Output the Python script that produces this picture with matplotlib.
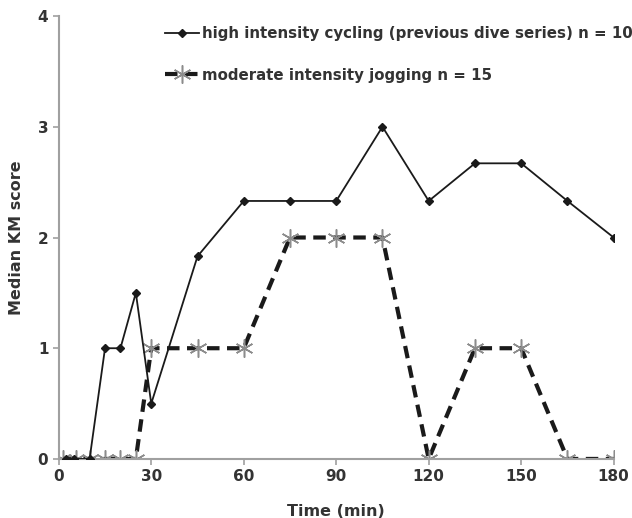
import matplotlib
matplotlib.use("Agg")
import matplotlib.pyplot as plt

plt.rcParams['font.family'] = ['DejaVu Sans']

high_time = [2.5, 5, 10, 15, 20, 25, 30, 45, 60, 75, 90, 105, 120, 135, 150, 165, 180]
high_score = [0, 0, 0, 1, 1, 1.5, 0.5, 1.83, 2.33, 2.33, 2.33, 3, 2.33, 2.67, 2.67, 2.33, 2]
jog_time = [1.5, 5.5, 10, 15, 20, 25, 30, 45, 60, 75, 90, 105, 120, 135, 150, 165, 180]
jog_score = [0, 0, 0, 0, 0, 0, 1, 1, 1, 2, 2, 2, 0, 1, 1, 0, 0]
high_label = "high intensity cycling (previous dive series) n = 10"
jog_label = "moderate intensity jogging n = 15"
x_ticks = [0, 30, 60, 90, 120, 150, 180]
y_ticks = [0, 1, 2, 3, 4]

fig = plt.figure(figsize=(6.32, 5.18), dpi=100)
ax = fig.add_axes([0.093, 0.114, 0.878, 0.855])

ax.plot(high_time, high_score, color='#1a1a1a', lw=1.3, marker='D', ms=4,
        mfc='#1a1a1a', mec='#1a1a1a', label=high_label, zorder=3)
ax.plot(jog_time, jog_score, color='#1a1a1a', lw=3, dashes=(3, 1.8),
        marker=(6, 2, 0), ms=13, mec='#8c8c8c', mew=1.1, label=jog_label, zorder=2)

ax.set_xlim(0, 180)
ax.set_ylim(0, 4)
ax.set_xticks(x_ticks)
ax.set_yticks(y_ticks)
for s in ['top', 'right']:
    ax.spines[s].set_visible(False)
for s in ['left', 'bottom']:
    ax.spines[s].set_color('#a0a0a0')
    ax.spines[s].set_linewidth(1.5)
ax.tick_params(axis='both', colors='#a0a0a0', length=4, width=1.2,
               labelcolor='#333333', labelsize=11)
for lab in ax.get_xticklabels() + ax.get_yticklabels():
    lab.set_fontweight('bold')

ax.set_xlabel("Time (min)", fontsize=11.5, fontweight='bold', color='#333333', labelpad=14)
ax.set_ylabel("Median KM score", fontsize=11.5, fontweight='bold', color='#333333', labelpad=10)

leg = ax.legend(loc='upper left', bbox_to_anchor=(0.18, 0.99), frameon=False,
                fontsize=10.8, labelspacing=1.75, handlelength=2.3, handletextpad=0.2,
                borderaxespad=0)
for t in leg.get_texts():
    t.set_fontweight('bold')
    t.set_color('#333333')

fig.savefig("out.png", dpi=100)
